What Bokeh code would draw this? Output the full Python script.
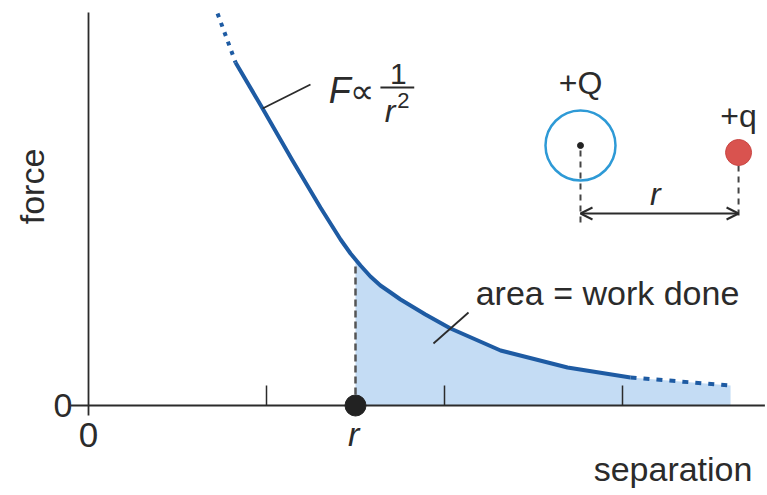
import math
from bokeh.plotting import figure
from bokeh.models import Range1d, Arrow, OpenHead
from bokeh.core.properties import value
from bokeh.embed import file_html
from bokeh.resources import INLINE

# ---- data ----
separation = [0.725, 0.826, 0.978, 1.146, 1.303, 1.416, 1.472, 1.5, 1.528, 1.584,
              1.640, 1.697, 1.753, 1.893, 2.034, 2.315, 2.691, 3.045, 3.607]
force = [3.92, 3.43, 2.97, 2.45, 1.98, 1.66, 1.52, 1.46, 1.40, 1.29,
         1.20, 1.13, 1.06, 0.91, 0.77, 0.55, 0.38, 0.28, 0.20]
r_value = 1.5
x_ticks = [1, 2, 3]
solid_start, solid_end = 1, 17      # indices of the solid part of the curve
fill_start = 7                      # index where the shaded area begins (x = r)

# inset: charges +Q and +q
big_Q = (2.764, 2.60)
small_q = (3.652, 2.53)

FONT = value("Liberation Sans")
INK = "#2b2b2b"
CURVE = "#1e5ba3"
FILL = "#c4dcf4"
B = 0.10   # lift for alphabetic baselines

p = figure(width=767, height=495,
           x_range=Range1d(-0.4944, 3.8146), y_range=Range1d(-0.90, 4.05),
           x_axis_location=None, y_axis_location=None,
           output_backend="svg", toolbar_location=None, min_border=0)
p.outline_line_color = None
p.grid.grid_line_color = None
p.background_fill_color = "white"
p.border_fill_color = "white"

# shaded area = work done
p.varea(x=separation[fill_start:], y1=[0] * len(separation[fill_start:]),
        y2=force[fill_start:], fill_color=FILL)

# axes drawn on the data scales
p.segment(x0=[0], y0=[-0.10], x1=[0], y1=[3.93], line_color=INK, line_width=1.8)
p.segment(x0=[-0.10], y0=[0], x1=[3.80], y1=[0], line_color=INK, line_width=1.8)
p.segment(x0=x_ticks, y0=[0] * 3, x1=x_ticks, y1=[0.20] * 3, line_color=INK, line_width=1.5)

# curve F ∝ 1/r²
p.line(separation[solid_start:solid_end + 1], force[solid_start:solid_end + 1],
       line_color=CURVE, line_width=4, line_join="round")
p.line(separation[:solid_start + 1], force[:solid_start + 1],
       line_color=CURVE, line_width=4, line_dash="4 6")
p.line(separation[solid_end:], force[solid_end:],
       line_color=CURVE, line_width=4, line_dash="6 7")

# dashed line at r
p.segment(x0=[r_value], y0=[0], x1=[r_value], y1=[force[fill_start] - 0.04],
          line_color="#555555", line_width=2.5, line_dash="7 4")
p.scatter([r_value], [0], size=21, fill_color="#222222", line_color="#222222")

# labels on axes
p.text(x=[-0.09], y=[0], text=["0"], text_align="right", text_baseline="middle",
       text_font=FONT, text_font_size="34px", text_color=INK)
p.text(x=[0], y=[-0.17], text=["0"], text_align="center", text_baseline="top",
       text_font=FONT, text_font_size="35px", text_color=INK)
p.text(x=[r_value - 0.01], y=[-0.09], text=["r"], text_align="center", text_baseline="top",
       text_font=FONT, text_font_size="34px", text_font_style="italic", text_color=INK)
p.text(x=[3.73], y=[-0.73 + B], text=["separation"], text_align="right",
       text_baseline="alphabetic", text_font=FONT, text_font_size="34px", text_color=INK)
p.text(x=[-0.315], y=[2.19], text=["force"], angle=math.pi / 2, text_align="center",
       text_baseline="middle", text_font=FONT, text_font_size="34px", text_color=INK)

# F ∝ 1/r² label with pointer
p.segment(x0=[0.978], y0=[2.97], x1=[1.247], y1=[3.21], line_color=INK, line_width=1.8)
p.text(x=[1.35], y=[3.05 + B], text=["F"], text_baseline="alphabetic", text_font=FONT,
       text_font_size="36px", text_font_style="italic", text_color=INK)
p.text(x=[1.47], y=[3.05 + B], text=["∝"], text_baseline="alphabetic", text_font=FONT,
       text_font_size="34px", text_color=INK)
p.segment(x0=[1.64], y0=[3.18], x1=[1.83], y1=[3.18], line_color=INK, line_width=1.8)
p.text(x=[1.74], y=[3.22 + B], text=["1"], text_align="center", text_baseline="alphabetic",
       text_font=FONT, text_font_size="30px", text_color=INK)
p.text(x=[1.665], y=[2.85 + B], text=["r"], text_baseline="alphabetic", text_font=FONT,
       text_font_size="32px", text_font_style="italic", text_color=INK)
p.text(x=[1.735], y=[2.95 + B], text=["2"], text_baseline="alphabetic", text_font=FONT,
       text_font_size="22px", text_color=INK)

# area = work done label with pointer
p.segment(x0=[1.938], y0=[0.62], x1=[2.135], y1=[0.93], line_color=INK, line_width=1.8)
p.text(x=[2.175], y=[1.03 + B], text=["area = work done"], text_baseline="alphabetic",
       text_font=FONT, text_font_size="34px", text_color=INK)

# inset: charges
p.segment(x0=[big_Q[0], small_q[0]], y0=[big_Q[1] - 0.05, small_q[1] - 0.13],
          x1=[big_Q[0], small_q[0]], y1=[1.80, 1.87],
          line_color="#444444", line_width=2, line_dash="6 5")
p.scatter([big_Q[0]], [big_Q[1]], size=70, fill_color=None, line_color="#2e9ad6",
          line_width=2.5)
p.scatter([big_Q[0]], [big_Q[1]], size=6, fill_color="#222222", line_color="#222222")
p.scatter([small_q[0]], [small_q[1]], size=26, fill_color="#d9534f", line_color="#c94643")
p.add_layout(Arrow(start=OpenHead(size=12, line_width=2, line_color=INK),
                   end=OpenHead(size=12, line_width=2, line_color=INK),
                   x_start=big_Q[0], y_start=1.92, x_end=small_q[0], y_end=1.92,
                   line_color=INK, line_width=2))
p.text(x=[big_Q[0]], y=[3.13 + B], text=["+Q"], text_align="center", text_baseline="alphabetic",
       text_font=FONT, text_font_size="32px", text_color=INK)
p.text(x=[small_q[0]], y=[2.80 + B], text=["+q"], text_align="center", text_baseline="alphabetic",
       text_font=FONT, text_font_size="32px", text_color=INK)
p.text(x=[3.185], y=[2.02 + B], text=["r"], text_align="center", text_baseline="alphabetic",
       text_font=FONT, text_font_size="32px", text_font_style="italic", text_color=INK)

open("out.html", "w").write(file_html(p, INLINE))
